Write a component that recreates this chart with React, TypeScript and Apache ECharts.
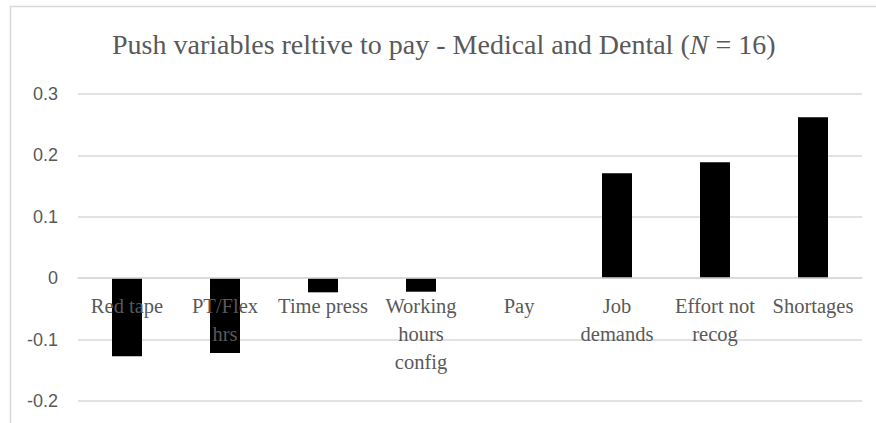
import React, { useEffect, useRef } from "react";
import * as echarts from "echarts";

const categories = [
  "Red tape",
  "PT/Flex\nhrs",
  "Time press",
  "Working\nhours\nconfig",
  "Pay",
  "Job\ndemands",
  "Effort not\nrecog",
  "Shortages",
];
const values = [-0.127, -0.122, -0.023, -0.022, 0, 0.171, 0.189, 0.262];
const yTicks = { min: -0.2, max: 0.3, interval: 0.1 };

const GRID_TOP = 94;
const GRID_BOTTOM = 22;
const GRID_H = 423 - GRID_TOP - GRID_BOTTOM;
const ZERO_OFFSET = -((0 - yTicks.min) / (yTicks.max - yTicks.min)) * GRID_H;

export default function App() {
  const ref = useRef<HTMLDivElement>(null);
  useEffect(() => {
    if (!ref.current) return;
    const chart = echarts.init(ref.current, null, { renderer: "svg" });
    chart.setOption({
      animation: false,
      backgroundColor: "#ffffff",
      title: {
        text: "Push variables reltive to pay - Medical and Dental ({i|N} = 16)",
        left: 112,
        top: 30,
        padding: 0,
        textStyle: {
          fontFamily: "Liberation Serif",
          fontSize: 28,
          fontWeight: "normal",
          color: "#595959",
          rich: {
            i: {
              fontFamily: "Liberation Serif",
              fontSize: 28,
              fontStyle: "italic",
              color: "#595959",
            },
          },
        },
      },
      graphic: [
        {
          type: "line",
          shape: { x1: 10, y1: 6.5, x2: 876, y2: 6.5 },
          style: { stroke: "#d9d9d9", lineWidth: 1.5 },
        },
        {
          type: "line",
          shape: { x1: 10.5, y1: 6, x2: 10.5, y2: 423 },
          style: { stroke: "#d9d9d9", lineWidth: 1.5 },
        },
      ],
      grid: {
        left: 78,
        right: 14,
        top: GRID_TOP,
        bottom: GRID_BOTTOM,
        containLabel: false,
        outerBoundsMode: "none",
      },
      xAxis: {
        type: "category",
        data: categories,
        position: "bottom",
        offset: ZERO_OFFSET,
        axisLine: { onZero: false, lineStyle: { color: "#d9d9d9", width: 1.5 } },
        axisTick: { show: false },
        axisLabel: {
          interval: 0,
          margin: 14,
          fontFamily: "Liberation Serif",
          fontSize: 20.5,
          lineHeight: 28,
          color: "#595959",
        },
        z: 10,
      },
      yAxis: {
        type: "value",
        min: yTicks.min,
        max: yTicks.max,
        interval: yTicks.interval,
        axisLine: { show: false },
        axisTick: { show: false },
        splitLine: { lineStyle: { color: "#d9d9d9", width: 1.5 } },
        axisLabel: {
          margin: 20,
          fontFamily: "Liberation Sans",
          fontSize: 18,
          color: "#595959",
          formatter: (v: number) => String(Math.round(v * 10) / 10),
        },
      },
      series: [
        {
          type: "bar",
          data: values,
          barWidth: 30,
          itemStyle: { color: "#000000" },
          z: 2,
        },
      ],
    });
    return () => chart.dispose();
  }, []);
  return (
    <div
      ref={ref}
      style={{ position: "fixed", left: 0, top: 0, width: 876, height: 423 }}
    />
  );
}
